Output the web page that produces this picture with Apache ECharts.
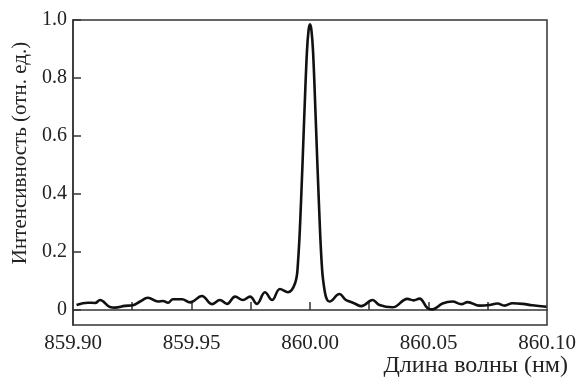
<!DOCTYPE html>
<html>
<head>
<meta charset="utf-8">
<script src="https://cdn.jsdelivr.net/npm/echarts@6/dist/echarts.min.js"></script>
<style>
html,body{margin:0;padding:0;background:#fff;}
#c{width:578px;height:378px;}
</style>
</head>
<body>
<div id="c"></div>
<script>
var wavelength = [
  859.9015, 859.9063, 859.9093, 859.9114, 859.9156, 859.9177, 859.9219, 859.9253,
  859.9283, 859.9316, 859.9359, 859.9380, 859.9401, 859.9422, 859.9460, 859.9494,
  859.9544, 859.9586, 859.9620, 859.9650, 859.9684, 859.9717, 859.9747, 859.9776,
  859.9810, 859.9840, 859.9873, 859.9907, 859.9937, 859.9949, 859.9962, 859.9975,
  859.9987, 859.9994, 860.0000, 860.0006, 860.0013, 860.0025, 860.0038, 860.0051,
  860.0063, 860.0072, 860.0082, 860.0124, 860.0150, 860.0167, 860.0188, 860.0217,
  860.0264, 860.0293, 860.0348, 860.0411, 860.0437, 860.0462, 860.0496, 860.0517,
  860.0559, 860.0601, 860.0639, 860.0665, 860.0715, 860.0757, 860.0791, 860.0821,
  860.0854, 860.0897, 860.0939, 860.0998
];
var intensity = [
  0.017, 0.025, 0.024, 0.034, 0.010, 0.008, 0.014, 0.016,
  0.029, 0.042, 0.029, 0.031, 0.025, 0.037, 0.037, 0.026,
  0.048, 0.020, 0.034, 0.021, 0.046, 0.034, 0.046, 0.021,
  0.061, 0.034, 0.072, 0.061, 0.092, 0.160, 0.370, 0.650,
  0.890, 0.965, 0.985, 0.965, 0.890, 0.640, 0.360, 0.140,
  0.060, 0.035, 0.029, 0.055, 0.035, 0.029, 0.022, 0.013,
  0.034, 0.017, 0.009, 0.038, 0.033, 0.039, 0.006, 0.002,
  0.022, 0.029, 0.020, 0.027, 0.015, 0.017, 0.022, 0.015,
  0.023, 0.021, 0.016, 0.011
];
var xLabelValues = [859.90, 859.95, 860.00, 860.05, 860.10];
var xTickValues = [859.925, 859.95, 859.975, 860.00, 860.025, 860.05, 860.075];
var yLabelValues = [0, 0.2, 0.4, 0.6, 0.8, 1.0];
var xTitle = 'Длина волны (нм)';
var yTitle = 'Интенсивность (отн. ед.)';

var pts = wavelength.map(function (w, i) { return [w, intensity[i]]; });
var font = '"Liberation Serif", "DejaVu Serif", serif';
var chart = echarts.init(document.getElementById('c'), null, {renderer: 'canvas'});
chart.setOption({
  animation: false,
  backgroundColor: '#ffffff',
  title: {
    text: xTitle, right: 10, top: 354, padding: 0,
    textStyle: {color: '#222', fontFamily: font, fontSize: 24, fontWeight: 'normal'}
  },
  grid: {left: 73, right: 31, top: 20, bottom: 53, containLabel: false, outerBoundsMode: 'none',
    show: true, borderColor: '#333', borderWidth: 1.5, backgroundColor: 'transparent'},
  xAxis: {
    type: 'value', min: 859.90, max: 860.10,
    splitLine: {show: false},
    axisLine: {lineStyle: {color: '#333', width: 1.5}},
    axisTick: {inside: true, length: 8, customValues: xTickValues, lineStyle: {color: '#333', width: 1.5}},
    axisLabel: {customValues: xLabelValues, margin: 8, color: '#222', fontFamily: font, fontSize: 21,
      formatter: function (v) { return v.toFixed(2); }}
  },
  yAxis: {
    type: 'value', min: -0.052, max: 1.0,
    splitLine: {show: false},
    axisLine: {show: true, lineStyle: {color: '#333', width: 1.5}},
    axisTick: {show: true, inside: true, length: 8, customValues: yLabelValues, lineStyle: {color: '#333', width: 1.5}},
    axisLabel: {customValues: yLabelValues, margin: 6, color: '#222', fontFamily: font, fontSize: 20,
      formatter: function (v) { return v === 0 ? '0' : v.toFixed(1); }},
    name: yTitle, nameLocation: 'middle', nameGap: 38,
    nameTextStyle: {color: '#222', fontFamily: font, fontSize: 21, padding: [0, 0, 0, 39]}
  },
  series: [{
    type: 'line', data: pts, smooth: 0.4, showSymbol: false,
    lineStyle: {color: '#111', width: 2.6}
  }]
});
</script>
</body>
</html>
